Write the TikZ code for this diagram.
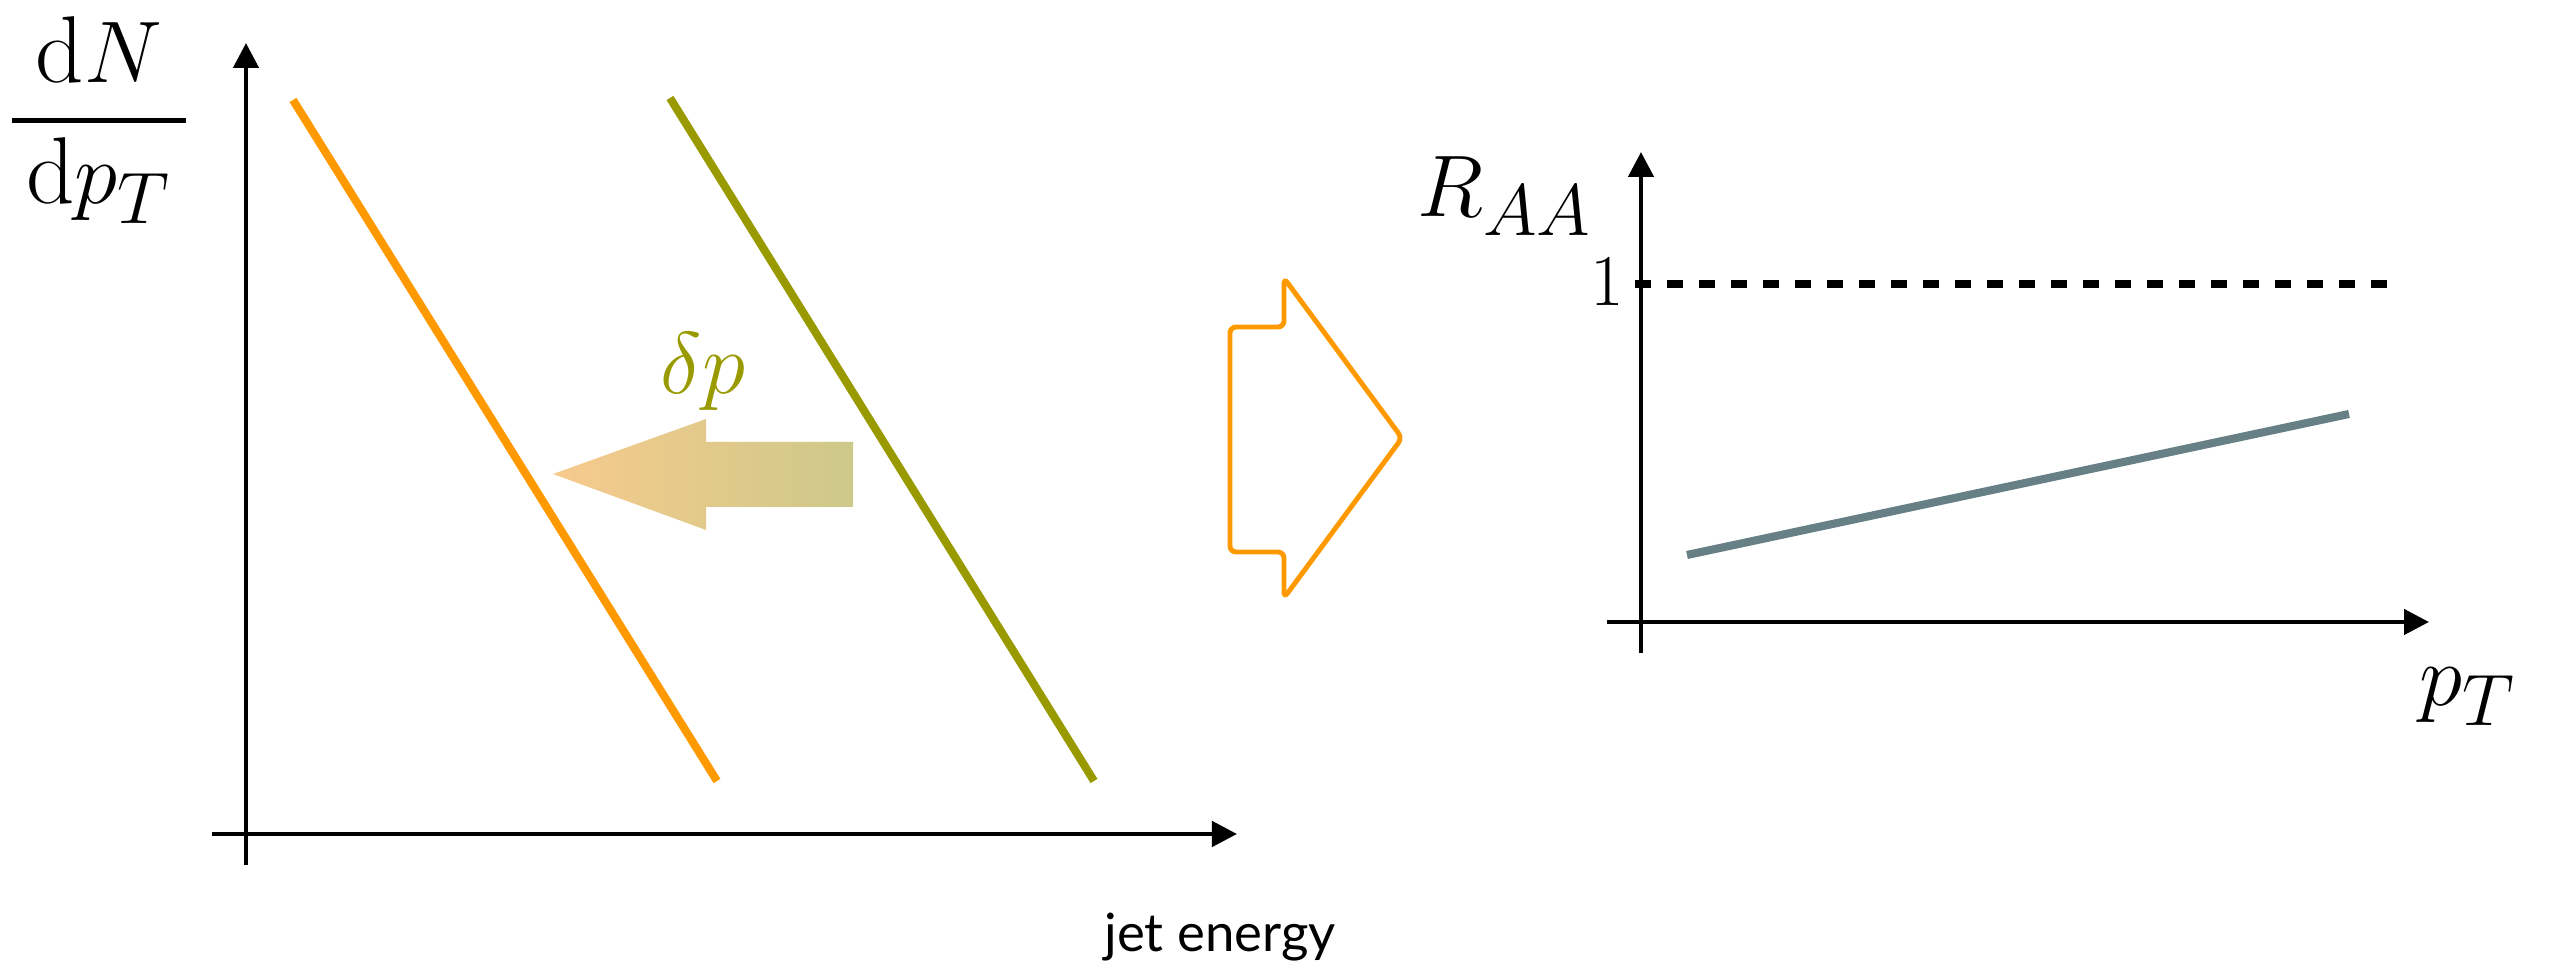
\documentclass[tikz,border=0pt]{standalone}
\usepackage{amsmath}
\usepackage{fontspec}
\setsansfont{Lato}
\usetikzlibrary{arrows.meta}
\DeclareMathSizes{27}{27}{21.6}{16.2}
\definecolor{jetorange}{RGB}{255,153,0}
\definecolor{jetolive}{RGB}{153,153,0}
\definecolor{raagray}{RGB}{102,128,133}
\definecolor{shiftleft}{RGB}{247,202,140}
\definecolor{shiftright}{RGB}{205,201,138}
\tikzset{
  axisline/.style={draw, line width=1.3pt, -{Triangle[length=0.25cm,width=0.25cm]}},
  spectrum/.style={line width=2.3pt},
  biglabel/.style={inner sep=0pt, font=\fontsize{27}{32}\selectfont},
}
\begin{document}
\begin{tikzpicture}[x=0.01cm,y=-0.01cm]
\useasboundingbox (0,0) rectangle (2553,965);

% spectrum plot
\coordinate (lo) at (246,865);
\coordinate (ltop) at (246,43);
\coordinate (lx0) at (212,834);
\coordinate (lxend) at (1237,834);
\draw[axisline] (lo) -- (ltop);
\draw[axisline] (lx0) -- (lxend);

\node[biglabel] (dndp) at (99,120) {$\genfrac{}{}{1.4pt}{0}{\mathrm{d}N}{\,\mathrm{d}p_T\,}$};
\node[inner sep=0pt, anchor=base, font=\sffamily\fontsize{15}{18}\selectfont] (energy) at (1220,952) {jet energy};

\coordinate (qa) at (293,100);
\coordinate (qb) at (717,781);
\coordinate (pa) at (670,98);
\coordinate (pb) at (1094,781);
\draw[spectrum, jetorange] (qa) -- (qb);
\draw[spectrum, jetolive] (pa) -- (pb);

% shift
\shade[left color=shiftleft, right color=shiftright]
  (553,474) -- (706,419) -- (706,442) -- (853,442) -- (853,507) -- (706,507) -- (706,530) -- cycle;
\node[inner sep=0pt, text=jetolive, font=\fontsize{24}{28}\selectfont] (dp) at (703,372) {$\delta p$};

% ratio arrow
\draw[jetorange, line width=1.4pt, rounded corners=0.06cm]
  (1284,278) -- (1284,327) -- (1230,327) -- (1230,552) -- (1284,552) -- (1284,598)
  -- (1402,438) -- cycle;

% ratio plot
\coordinate (ro) at (1641,653);
\coordinate (rtop) at (1641,152);
\coordinate (rx0) at (1607,622);
\coordinate (rxend) at (2429,622);
\draw[axisline] (ro) -- (rtop);
\draw[axisline] (rx0) -- (rxend);

\node[biglabel] (raa) at (1505,196) {$R_{AA}$};
\node[inner sep=0pt, font=\fontsize{20.8}{25}\selectfont] (one) at (1607,282) {$1$};
\node[biglabel] (pt) at (2468,697) {$p_T$};

\coordinate (unitA) at (1635,284);
\coordinate (unitB) at (2387,284);
\draw[line width=2pt, dash pattern=on 0.16cm off 0.16cm] (unitA) -- (unitB);

\coordinate (ra) at (1687,555);
\coordinate (rb) at (2349,414);
\draw[spectrum, raagray] (ra) -- (rb);
\end{tikzpicture}
\end{document}
